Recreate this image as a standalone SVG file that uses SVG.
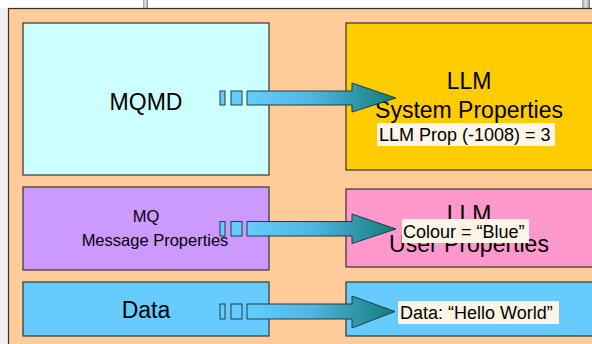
<svg xmlns="http://www.w3.org/2000/svg" width="592" height="344" viewBox="0 0 592 344">
  <defs>
    <linearGradient id="flow" gradientUnits="objectBoundingBox" x1="0" y1="0" x2="1" y2="0">
      <stop offset="0" stop-color="#66CCFF"/>
      <stop offset="0.45" stop-color="#4FB4DF"/>
      <stop offset="1" stop-color="#137A78"/>
    </linearGradient>
    <linearGradient id="bar" x1="0" y1="0" x2="1" y2="0">
      <stop offset="0" stop-color="#9A9A9A"/>
      <stop offset="0.5" stop-color="#E8E8E8"/>
      <stop offset="1" stop-color="#7A7A7A"/>
    </linearGradient>
    <style>
      .box { stroke: #333333; stroke-width: 1.2; }
      .big { font-family: "Liberation Sans", Arial, sans-serif; font-size: 23px; fill: #000000; text-anchor: middle; }
      .mid { font-family: "Liberation Sans", Arial, sans-serif; font-size: 16.5px; fill: #000000; text-anchor: middle; }
      .tag { fill: #FDF5E6; }
      .tagtext { font-family: "Liberation Sans", Arial, sans-serif; font-size: 18px; fill: #000000; }
      .arrow { fill: url(#flow); stroke: #1E3F40; stroke-width: 1; stroke-linejoin: miter; }
      .tick { fill: #66CCFF; stroke: #1E3F40; stroke-width: 1; }
    </style>
  </defs>

  <!-- window surround -->
  <rect x="0" y="0" width="592" height="344" fill="#FFFFFF"/>
  <rect x="0" y="8" width="8" height="336" fill="#F2F2F2"/>
  <rect x="143" y="0" width="5" height="8" fill="url(#bar)"/>
  <rect x="582" y="0" width="8" height="8" fill="url(#bar)"/>

  <!-- background panel -->
  <rect x="8.5" y="8.5" width="600" height="350" fill="#FFCC99" stroke="#333333" stroke-width="1.2"/>

  <g id="mqmd">
    <rect class="box" x="23" y="23" width="246" height="152" fill="#CCFFFF"/>
    <text class="big" x="146" y="110">MQMD</text>
  </g>

  <g id="llm-system">
    <rect class="box" x="346" y="23" width="250" height="147" fill="#FFCC00"/>
    <text class="big" x="469" y="89">LLM</text>
    <text class="big" x="469" y="118">System Properties</text>
    <rect class="tag" x="377" y="123" width="178" height="23"/>
    <text class="tagtext" x="379" y="141">LLM Prop (-1008) = 3</text>
  </g>

  <g id="mq-props">
    <rect class="box" x="23" y="187" width="246" height="83" fill="#CC99FF"/>
    <text class="mid" x="146" y="222">MQ</text>
    <text class="mid" x="155" y="246">Message Properties</text>
  </g>

  <g id="llm-user">
    <rect class="box" x="346" y="189" width="250" height="78" fill="#FF99CC"/>
    <text class="big" x="469" y="222">LLM</text>
    <text class="big" x="469" y="252">User Properties</text>
    <rect class="tag" x="402" y="219" width="127" height="24"/>
    <text class="tagtext" x="403" y="238">Colour = “Blue”</text>
  </g>

  <g id="data">
    <rect class="box" x="23" y="282" width="246" height="54" fill="#66CCFF"/>
    <text class="big" x="146" y="318">Data</text>
  </g>

  <g id="llm-data">
    <rect class="box" x="346" y="282" width="250" height="54" fill="#66CCFF"/>
    <rect class="tag" x="398" y="301" width="161" height="23"/>
    <text class="tagtext" x="400" y="319">Data: “Hello World”</text>
  </g>

  <g id="connectors">
    <!-- MQMD to system properties -->
    <rect class="tick" x="220" y="91" width="5" height="14"/>
    <rect class="tick" x="231" y="91" width="11" height="14"/>
    <path class="arrow" d="M247,91 H352 V83 L396,98 L352,112 V105 H247 Z"/>

    <!-- message properties to user properties -->
    <rect class="tick" x="220" y="221.5" width="5" height="14.5"/>
    <rect class="tick" x="231" y="221.5" width="11" height="14.5"/>
    <path class="arrow" d="M247,221.5 H352 V214 L396,229 L352,243.5 V236 H247 Z"/>

    <!-- data to data -->
    <rect class="tick" x="220" y="304" width="5" height="15"/>
    <rect class="tick" x="231" y="304" width="11" height="15"/>
    <path class="arrow" d="M247,304 H352 V296 L395,311.5 L352,328 V319 H247 Z"/>
  </g>
</svg>
